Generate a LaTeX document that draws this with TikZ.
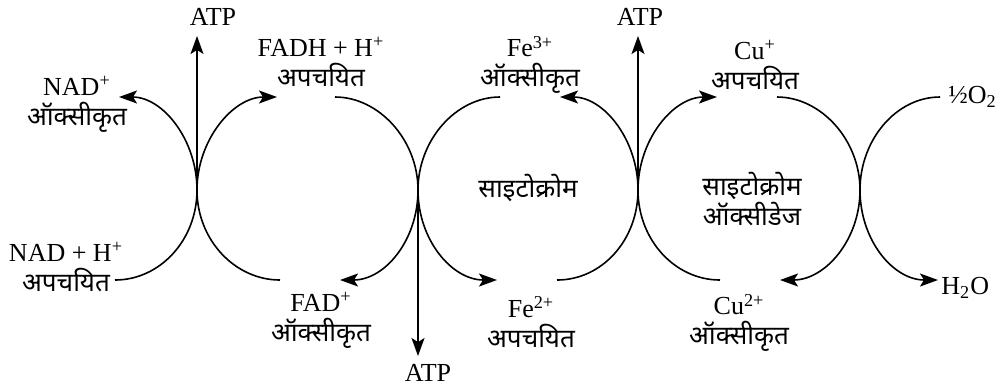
\documentclass[tikz,border=0pt]{standalone}
\usepackage{fontspec}
\setmainfont{Liberation Serif}
\newfontfamily\hindi[Script=Devanagari]{Noto Sans}
\usetikzlibrary{arrows.meta}

\begin{document}
\begin{tikzpicture}[x=0.5pt, y=-0.5pt,
  lbl/.style={align=center, font=\fontsize{13}{15}\selectfont, inner sep=1pt},
  curve/.style={line width=0.8pt},
  tip/.style={curve, -{Stealth[length=9pt, width=6.5pt, inset=2pt]}}
]
\useasboundingbox (0,0) rectangle (1005,388);

% pinch points of the coupled cycles
\coordinate (j1) at (197,190);
\coordinate (j2) at (418,190);
\coordinate (j3) at (638,190);
\coordinate (j4) at (860,190);

% free ends of the arcs
\coordinate (a1) at (115,280);
\coordinate (b1) at (119,97);
\coordinate (c1) at (277,97);
\coordinate (d1) at (280,280);
\coordinate (a2) at (335,97);
\coordinate (b2) at (340,280);
\coordinate (c2) at (500,97);
\coordinate (d2) at (497,280);
\coordinate (a3) at (557,280);
\coordinate (b3) at (560,97);
\coordinate (c3) at (720,280);
\coordinate (d3) at (717,97);
\coordinate (a4) at (777,97);
\coordinate (b4) at (780,280);
\coordinate (c4) at (940,97);
\coordinate (d4) at (938,280);

% labels
\node[lbl] (nadox) at (77,104) {NAD\textsuperscript{+}\\\hindi ऑक्सीकृत};
\node[lbl] (nadred) at (66,267) {NAD + H\textsuperscript{+}\\\hindi अपचयित};
\node[lbl] (fadh) at (321,62) {FADH + H\textsuperscript{+}\\\hindi अपचयित};
\node[lbl] (fad) at (321,320) {FAD\textsuperscript{+}\\\hindi ऑक्सीकृत};
\node[lbl] (fe3) at (530,65) {Fe\textsuperscript{3+}\\\hindi ऑक्सीकृत};
\node[lbl] (fe2) at (531,322) {Fe\textsuperscript{2+}\\\hindi अपचयित};
\node[lbl] (cu1) at (755,65) {Cu\textsuperscript{+}\\\hindi अपचयित};
\node[lbl] (cu2) at (739,323) {Cu\textsuperscript{2+}\\\hindi ऑक्सीकृत};
\node[lbl] (cyt) at (528,188) {\hindi साइटोक्रोम};
\node[lbl] (cox) at (752,199) {\hindi साइटोक्रोम\\\hindi ऑक्सीडेज};
\node[lbl, anchor=west] (oxy) at (946,97) {½O\textsubscript{2}};
\node[lbl, anchor=west] (water) at (939,288) {H\textsubscript{2}O};
\node[lbl] (atp1) at (213,17) {ATP};
\node[lbl] (atp2) at (428,373) {ATP};
\node[lbl] (atp3) at (640,17) {ATP};

% arcs
\draw[tip] (a1) .. controls +(45,0) and +(0,50) .. (j1) .. controls +(0,-50) and +(44,0) .. (b1);
\draw[tip] (d1) .. controls +(-45,0) and +(0,50) .. (j1) .. controls +(0,-50) and +(-44,0) .. (c1);
\draw[tip] (a2) .. controls +(44,0) and +(0,-50) .. (j2) .. controls +(0,50) and +(45,0) .. (b2);
\draw[tip] (c2) .. controls +(-44,0) and +(0,-50) .. (j2) .. controls +(0,50) and +(-45,0) .. (d2);
\draw[tip] (a3) .. controls +(45,0) and +(0,50) .. (j3) .. controls +(0,-50) and +(44,0) .. (b3);
\draw[tip] (c3) .. controls +(-45,0) and +(0,50) .. (j3) .. controls +(0,-50) and +(-44,0) .. (d3);
\draw[tip] (a4) .. controls +(44,0) and +(0,-50) .. (j4) .. controls +(0,50) and +(45,0) .. (b4);
\draw[tip] (c4) .. controls +(-44,0) and +(0,-50) .. (j4) .. controls +(0,50) and +(-45,0) .. (d4);

% ATP
\draw[tip, shorten >=4pt] (j1) -- (j1 |- atp1.south);
\draw[tip, shorten >=3pt] (j2) -- (j2 |- atp2.north);
\draw[tip, shorten >=4pt] (j3) -- (j3 |- atp3.south);
\end{tikzpicture}
\end{document}
